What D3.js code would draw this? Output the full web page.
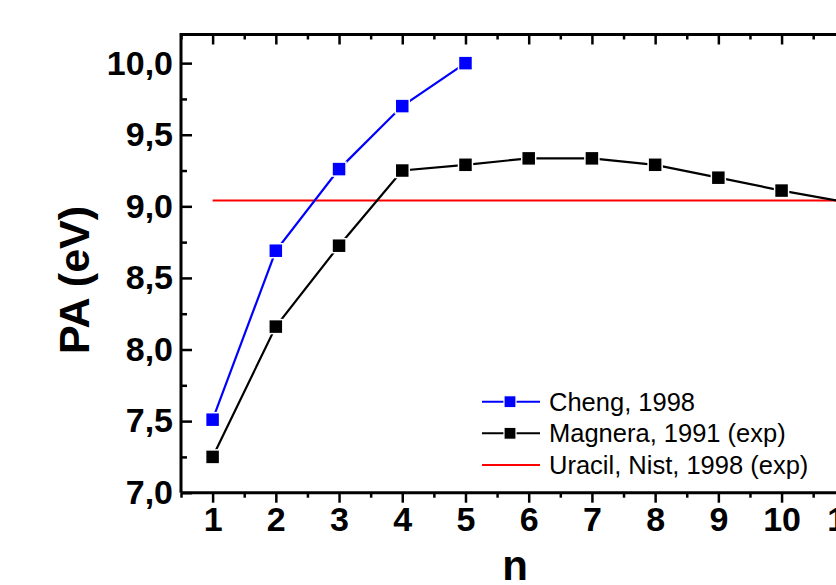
<!DOCTYPE html>
<html lang="en">
<head>
  <meta charset="utf-8">
  <script src="https://cdn.jsdelivr.net/npm/d3@7/dist/d3.min.js"></script>
  <style>
    body { margin: 0; background: #fff; }
    svg { font-family: "Liberation Sans", Arial, sans-serif; }
  </style>
</head>
<body>
  <script>

    // data
    var nValues = [1, 2, 3, 4, 5, 6, 7, 8, 9, 10, 11];
    var cheng = [7.51, 8.69, 9.26, 9.70, 10.00];
    var magnera = [7.25, 8.16, 8.725, 9.25, 9.29, 9.335, 9.335, 9.29, 9.20, 9.11, 9.03];
    var uracil = 9.04;
    var yTicks = [7.0, 7.5, 8.0, 8.5, 9.0, 9.5, 10.0];
    var legendLabels = ["Cheng, 1998", "Magnera, 1991 (exp)", "Uracil, Nist, 1998 (exp)"];

    const w = 836;
    const h = 585;

    const xScale = d3.scaleLinear()
      .domain([0.5, 11.5])
      .range([181, 876.4]);

    const yScale = d3.scaleLinear()
      .domain([7, 10.2])
      .range([492.7, 34.5]);

    const svg = d3.select("body")
      .append("svg")
      .attr("width", w)
      .attr("height", h);

    svg.append("rect")
      .attr("width", w)
      .attr("height", h)
      .attr("fill", "#fff");

    var comma = d => d3.format(".1f")(d).replace(".", ",");

    // minor ticks (half steps)
    var xMinor = nValues.map(d => d + 0.5).concat([0.5]);
    var yMinor = yTicks.map(d => d + 0.25).filter(d => d < 10.2);

    function styleAxis(g) {
      g.select(".domain").remove();
      g.selectAll(".tick line").attr("stroke", "#000").attr("stroke-width", 2.5);
    }

    // bottom axis
    svg.append("g")
      .attr("transform", "translate(0," + yScale(7) + ")")
      .call(d3.axisBottom(xScale).tickValues(xMinor).tickSize(5).tickFormat(""))
      .call(styleAxis);

    svg.append("g")
      .attr("transform", "translate(0," + yScale(7) + ")")
      .call(d3.axisBottom(xScale).tickValues(nValues).tickSize(10).tickPadding(4).tickFormat(d3.format("d")))
      .call(styleAxis)
      .selectAll("text")
      .attr("fill", "#000")
      .style("font-size", "34px")
      .style("font-weight", "bold");

    // top axis, ticks inward
    svg.append("g")
      .attr("transform", "translate(0," + yScale(10.2) + ")")
      .call(d3.axisTop(xScale).tickValues(xMinor).tickSize(-5).tickFormat(""))
      .call(styleAxis);

    svg.append("g")
      .attr("transform", "translate(0," + yScale(10.2) + ")")
      .call(d3.axisTop(xScale).tickValues(nValues).tickSize(-10).tickFormat(""))
      .call(styleAxis);

    // left axis, ticks inward
    svg.append("g")
      .attr("transform", "translate(" + xScale(0.5) + ",0)")
      .call(d3.axisLeft(yScale).tickValues(yMinor).tickSize(-6).tickFormat(""))
      .call(styleAxis);

    svg.append("g")
      .attr("transform", "translate(" + xScale(0.5) + ",0)")
      .call(d3.axisLeft(yScale).tickValues(yTicks).tickSize(-11).tickFormat(comma))
      .call(styleAxis)
      .selectAll("text")
      .attr("fill", "#000")
      .attr("x", -8)
      .style("font-size", "34px")
      .style("font-weight", "bold");

    // frame
    svg.append("path")
      .attr("d", "M" + xScale(0.5) + "," + yScale(7) + "V" + yScale(10.2) + "H" + xScale(11.5) +
        "M" + xScale(0.5) + "," + yScale(7) + "H" + xScale(11.5))
      .attr("fill", "none")
      .attr("stroke", "#000")
      .attr("stroke-width", 3);

    // reference line
    svg.append("line")
      .attr("x1", xScale(1))
      .attr("x2", xScale(11))
      .attr("y1", yScale(uracil))
      .attr("y2", yScale(uracil))
      .attr("stroke", "#ff0000")
      .attr("stroke-width", 2);

    var line = d3.line()
      .x((d, i) => xScale(nValues[i]))
      .y(d => yScale(d));

    function drawSeries(values, color) {
      svg.append("path")
        .datum(values)
        .attr("d", line)
        .attr("fill", "none")
        .attr("stroke", color)
        .attr("stroke-width", 2.2);

      svg.selectAll(null)
        .data(values)
        .enter()
        .append("rect")
        .attr("x", (d, i) => xScale(nValues[i]) - 7)
        .attr("y", d => yScale(d) - 7)
        .attr("width", 14)
        .attr("height", 14)
        .attr("fill", color)
        .attr("stroke", "#fff")
        .attr("stroke-width", 1.5);
    }

    drawSeries(magnera, "#000");
    drawSeries(cheng, "#0000ff");

    // legend
    var legendColors = ["#0000ff", "#000", "#ff0000"];
    var legend = svg.append("g");
    legendLabels.forEach(function(label, i) {
      var ly = 401.7 + i * 31.6;
      legend.append("line")
        .attr("x1", 482).attr("x2", 540)
        .attr("y1", ly).attr("y2", ly)
        .attr("stroke", legendColors[i])
        .attr("stroke-width", 2);
      if (i < 2) {
        legend.append("rect")
          .attr("x", 510 - 6).attr("y", ly - 6)
          .attr("width", 12).attr("height", 12)
          .attr("fill", legendColors[i])
          .attr("stroke", "#fff")
          .attr("stroke-width", 1.2);
      }
      legend.append("text")
        .attr("x", 549)
        .attr("y", ly)
        .attr("dy", "0.36em")
        .style("font-size", "25.5px")
        .text(label);
    });

    // axis titles
    svg.append("text")
      .attr("transform", "translate(89,280) rotate(-90)")
      .attr("text-anchor", "middle")
      .style("font-size", "43px")
      .style("font-weight", "bold")
      .text("PA (eV)");

    svg.append("text")
      .attr("x", 515)
      .attr("y", 580)
      .attr("text-anchor", "middle")
      .style("font-size", "42px")
      .style("font-weight", "bold")
      .text("n");

  </script>
</body>
</html>
